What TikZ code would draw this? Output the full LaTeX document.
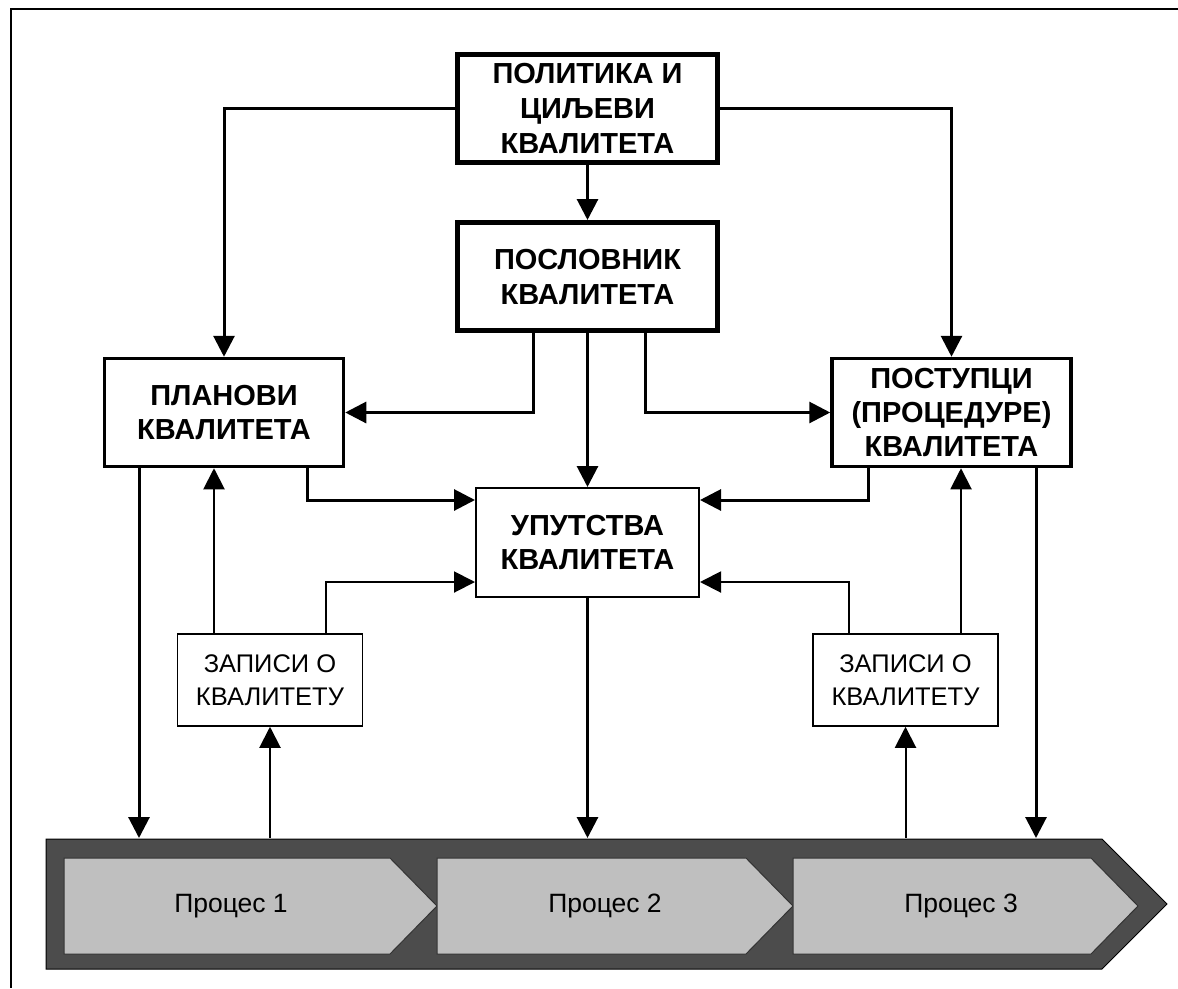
\documentclass[tikz,border=0pt]{standalone}
\usepackage{fontspec}
\setmainfont{Liberation Sans}
\usetikzlibrary{arrows.meta}

\tikzset{
  bigbox/.style={draw, line width=5pt, minimum width=260pt, minimum height=108pt, align=center, font=\bfseries\fontsize{29}{35}\selectfont},
  midbox/.style={draw, line width=3.5pt, minimum width=239pt, minimum height=108pt, align=center, font=\bfseries\fontsize{29}{34}\selectfont},
  docbox/.style={draw, line width=2pt, minimum width=223pt, minimum height=109pt, align=center, font=\bfseries\fontsize{29}{34}\selectfont},
  recbox/.style={draw, line width=1.5pt, minimum width=185pt, minimum height=92pt, align=center, font=\fontsize{25.5}{33}\selectfont},
  flow/.style={->, line width=3pt},
  feed/.style={->, line width=2pt},
}

\begin{document}
\begin{tikzpicture}[x=1pt, y=-1pt, >={Triangle[length=21pt,width=21pt]}]
\useasboundingbox (0,0) rectangle (1178,988);
\draw[line width=1.5pt](1178,9)--(11,9)--(11,988);

% documents
\node[bigbox] (politika) at (587.5,108.5) {ПОЛИТИКА И\\ЦИЉЕВИ\\КВАЛИТЕТА};
\node[bigbox] (poslovnik) at (587.5,276.5) {ПОСЛОВНИК\\КВАЛИТЕТА};
\node[midbox] (planovi) at (224,412.5) {ПЛАНОВИ\\КВАЛИТЕТА};
\node[midbox] (postupci) at (951.5,412.5) {ПОСТУПЦИ\\(ПРОЦЕДУРЕ)\\КВАЛИТЕТА};
\node[docbox] (uputstva) at (587.5,542.5) {УПУТСТВА\\КВАЛИТЕТА};
\node[recbox] (zapisiL) at (270,680) {ЗАПИСИ О\\КВАЛИТЕТУ};
\node[recbox] (zapisiR) at (905.5,680) {ЗАПИСИ О\\КВАЛИТЕТУ};

% process band
\draw[fill=black!70, draw=black, line width=1pt](46,839)--(1102,839)--(1167,904)--(1102,969)--(46,969)--cycle;
\foreach \a/\b/\c/\n in {64/390/231/1, 437/746/605/2, 793/1091/961/3}
{
    \draw[fill=black!25, draw=black!80, line width=1pt](\a,858)--(\b,858)--(\b+47,906)--(\b,954)--(\a,954)--cycle;
    \node[font=\fontsize{26.5}{30}\selectfont] (proc\n) at (\c,906) {Процес \n};
}
\coordinate (band) at (0,838);

% x positions of the vertical runs
\coordinate (k1) at (533,0);
\coordinate (k2) at (645,0);
\coordinate (k3) at (307,0);
\coordinate (k4) at (868,0);
\coordinate (k5) at (326,0);
\coordinate (k6) at (849,0);
\coordinate (k7) at (214,0);
\coordinate (k8) at (961,0);
\coordinate (k9) at (139,0);
\coordinate (k10) at (1036,0);
\coordinate (u1) at (0,500);
\coordinate (u2) at (0,582);

\draw[flow](politika)--(poslovnik);
\draw[flow](politika.west)-|(planovi.north);
\draw[flow](politika.east)-|(postupci.north);
\draw[flow](poslovnik.south -| k1)|-(planovi.east);
\draw[flow](poslovnik.south -| k2)|-(postupci.west);
\draw[flow](poslovnik)--(uputstva);
\draw[flow](planovi.south -| k3)|-(uputstva.west |- u1);
\draw[flow](postupci.south -| k4)|-(uputstva.east |- u1);
\draw[flow](planovi.south -| k9)--(band -| k9);
\draw[flow](postupci.south -| k10)--(band -| k10);
\draw[flow](uputstva)--(uputstva.south |- band);

\draw[feed](zapisiL.north -| k5)|-(uputstva.west |- u2);
\draw[feed](zapisiR.north -| k6)|-(uputstva.east |- u2);
\draw[feed](zapisiL.north -| k7)--(planovi.south -| k7);
\draw[feed](zapisiR.north -| k8)--(postupci.south -| k8);
\draw[feed](zapisiL.south |- band)--(zapisiL);
\draw[feed](zapisiR.south |- band)--(zapisiR);
\end{tikzpicture}
\end{document}
